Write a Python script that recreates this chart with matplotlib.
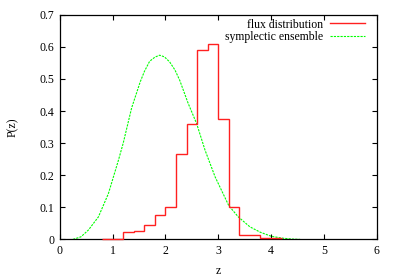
import matplotlib
matplotlib.use("Agg")
import matplotlib.pyplot as plt
import numpy as np

# Histogram ("flux distribution") bin edges and heights
flux_edges = [0.8, 1.0, 1.2, 1.4, 1.6, 1.8, 2.0, 2.2, 2.4, 2.6, 2.8, 3.0, 3.2, 3.4, 3.6, 3.8, 4.0, 4.2]
flux_vals = [0.002, 0.002, 0.023, 0.027, 0.044, 0.075, 0.100, 0.266, 0.361, 0.589, 0.608,
             0.375, 0.100, 0.015, 0.015, 0.003, 0.003]

# Symplectic ensemble curve
symp_z = [0.25, 0.4, 0.54, 0.73, 0.92, 1.11, 1.2, 1.36, 1.52, 1.6, 1.70, 1.8, 1.89, 1.98,
          2.08, 2.18, 2.27, 2.43, 2.59, 2.75, 2.94, 3.2, 3.38, 3.6, 3.8, 4.0, 4.2, 4.4, 4.55]
symp_p = [0.0, 0.008, 0.029, 0.070, 0.143, 0.247, 0.300, 0.410, 0.490, 0.523, 0.555, 0.568,
          0.574, 0.569, 0.553, 0.528, 0.496, 0.424, 0.361, 0.278, 0.195, 0.105, 0.070, 0.039,
          0.022, 0.010, 0.004, 0.001, 0.0]

x_ticks = [0, 1, 2, 3, 4, 5, 6]
y_ticks = [0, 0.1, 0.2, 0.3, 0.4, 0.5, 0.6, 0.7]
y_ticklabels = ["0", "0.1", "0.2", "0.3", "0.4", "0.5", "0.6", "0.7"]

plt.rcParams['font.family'] = ['Liberation Serif', 'DejaVu Serif']
plt.rcParams['font.size'] = 8.5

fig = plt.figure(figsize=(3.99, 2.79), dpi=100)
ax = fig.add_axes([0.150, 0.142, 0.794, 0.805])

ax.stairs(flux_vals, flux_edges, baseline=None, color='#ff2020', lw=1.0,
          label='flux distribution', zorder=3, clip_on=False)
ax.plot(symp_z, symp_p, color='#00ff00', lw=0.8, dashes=(2, 1),
        label='symplectic ensemble', zorder=2)

ax.set_xlim(0, 6)
ax.set_ylim(0, 0.7)
ax.set_xticks(x_ticks)
ax.set_xticklabels([str(t) for t in x_ticks])
ax.set_yticks(y_ticks)
ax.set_yticklabels(y_ticklabels)
ax.tick_params(direction='in', length=3.5, width=0.8, top=True, right=True,
               labelsize=8.5, pad=4)
for s in ax.spines.values():
    s.set_linewidth(0.9)
    s.set_zorder(2.5)

ax.set_xlabel('z', fontsize=8.5, labelpad=6)
ax.set_ylabel('P(z)', fontsize=8.5, labelpad=15)

leg = ax.legend(loc='upper right', bbox_to_anchor=(0.99, 1.02), frameon=False,
                markerfirst=False, handlelength=3.0, handletextpad=0.6,
                labelspacing=0.05, borderaxespad=0.3, fontsize=8.5)

fig.savefig('out.png', dpi=100)
